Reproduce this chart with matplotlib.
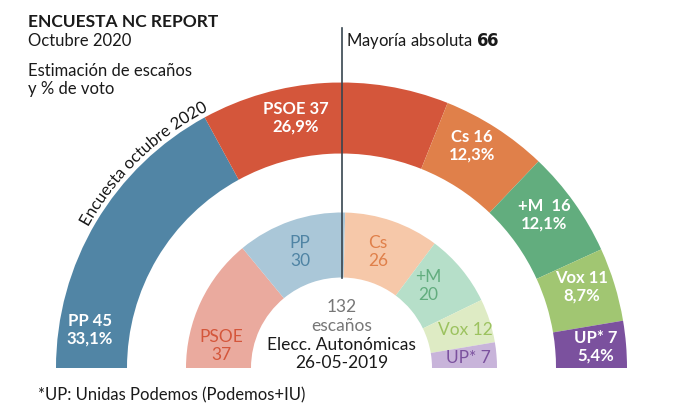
import numpy as np
import matplotlib
matplotlib.use("Agg")
from matplotlib import pyplot as plt
from matplotlib import patheffects as pe
from matplotlib.patches import Wedge
from matplotlib.font_manager import FontProperties, findfont, get_font
from matplotlib.ft2font import Kerning

# ==================================================
#   DATA

total_seats = 132
majority = 66

# outer ring: encuesta octubre 2020 (left to right)
survey_parties = ["PP", "PSOE", "Cs", "+M ", "Vox", "UP*"]
survey_seats = [45, 37, 16, 16, 11, 7]
survey_votes = ["33,1%", "26,9%", "12,3%", "12,1%", "8,7%", "5,4%"]

# inner ring: elecciones autonomicas 26-05-2019 (left to right)
elec_parties = ["PSOE", "PP", "Cs", "+M", "Vox", "UP*"]
elec_seats = [37, 30, 26, 20, 12, 7]

# ==================================================
#   STYLE / LAYOUT

FONT = "Lato"
plt.rcParams["font.family"] = [FONT, "DejaVu Sans"]

strong = {"PP": "#5185a5", "PSOE": "#d4563b", "Cs": "#e0804a",
          "+M": "#62ad7e", "Vox": "#a1c672", "UP*": "#7b519e"}
light = {"PP": "#aac7d8", "PSOE": "#eaaa9e", "Cs": "#f6c8a9",
         "+M": "#b6dfc9", "Vox": "#deebc4", "UP*": "#c8b4da"}
light_txt = {"PP": "#4f84a4", "PSOE": "#d4563b", "Cs": "#e0804a",
             "+M": "#62ad7e", "Vox": "#9cc25f", "UP*": "#7b519e"}

cx, cy = 341.5, 368.0
r_out, w_out = 285.5, 71.0
r_in, w_in = 155.5, 65.0

# label anchor points (pixels, image coords)
survey_lbl_xy = [(90, 330), (296, 118), (472, 146), (544, 215), (582, 287), (596, 347)]
elec_lbl_xy = [(221, 346), (300, 252), (378, 252), (428, 286), (465, 330), (468, 358)]


def ring(ax, seats, names, colors, r, w):
    # draw a half ring from left (180 deg) to right (0 deg); y axis is inverted
    start = 180.0
    for n, s in zip(names, seats):
        span = 180.0 * s / total_seats
        end = start - span
        ax.add_patch(Wedge((cx, cy), r, -start, -end, width=w,
                           facecolor=colors[n.strip()], edgecolor="none"))
        start = end


def advances(s, size_pt, dpi=100):
    # glyph advance widths (pixels) incl. kerning, from the font file
    font = get_font(findfont(FontProperties(family=FONT)))
    font.set_size(size_pt, dpi)
    out = []
    prev = None
    for c in s:
        gi = font.get_char_index(ord(c))
        kern = font.get_kerning(prev, gi, Kerning.DEFAULT) / 64.0 if prev is not None else 0.0
        glyph = font.load_char(ord(c))
        out.append((kern, glyph.linearHoriAdvance / 65536.0))
        prev = gi
    return out


def curved_text(ax, s, radius, ang_start, size, **kw):
    # put each character along an arc, going clockwise from ang_start
    # (path effect -> drawn as outline, so no pixel rounding per glyph)
    pos = 0.0
    for c, (kern, adv) in zip(s, advances(s, size)):
        pos += kern
        mid = pos + adv / 2
        pos += adv
        ang = ang_start - np.degrees(mid / radius)
        a = np.radians(ang)
        x = cx + radius * np.cos(a)
        y = cy - radius * np.sin(a)
        ax.text(x, y, c, rotation=ang - 90, rotation_mode="anchor",
                ha="center", va="baseline", fontsize=size,
                path_effects=[pe.Normal()], **kw)


fig = plt.figure(figsize=(6.8, 4.18), dpi=100)
ax = fig.add_axes([0, 0, 1, 1])
ax.set_xlim(0, 680)
ax.set_ylim(418, 0)
ax.axis("off")

ring(ax, survey_seats, survey_parties, strong, r_out, w_out)
ring(ax, elec_seats, elec_parties, light, r_in, w_in)

# majority line
ax.plot([cx, cx], [28, cy - (r_in - w_in)], color="#37454f", lw=1.2, zorder=3)
ax.text(cx + 4, 46, "Mayoría absoluta $\\mathbf{%d}$" % majority, fontsize=12,
        color="#1a1a1a", va="baseline")

# segment labels
for n, s, v, (x, y) in zip(survey_parties, survey_seats, survey_votes, survey_lbl_xy):
    ax.text(x, y, f"{n} {s}\n{v}", color="white", fontsize=12, fontweight="bold",
            ha="center", va="center", linespacing=1.1)

for n, s, (x, y) in zip(elec_parties, elec_seats, elec_lbl_xy):
    sep = " " if n in ("Vox", "UP*") else "\n"
    ax.text(x, y, f"{n}{sep}{s}", color=light_txt[n], fontsize=12.5,
            ha="center", va="center", linespacing=1.1)

# centre text
ax.text(cx, 307, str(total_seats), color="#777777", fontsize=12.5, ha="center", va="center")
ax.text(cx, 326, "escaños", color="#777777", fontsize=12.5, ha="center", va="center")
ax.text(cx, 345, "Elecc. Autonómicas", color="#1a1a1a", fontsize=12.5, ha="center", va="center")
ax.text(cx, 363, "26-05-2019", color="#1a1a1a", fontsize=12.5, ha="center", va="center")

# curved ring title
curved_text(ax, "Encuesta octubre 2020", 290, 151, 12, color="#1a1a1a")

# titles
ax.text(28, 27, "ENCUESTA NC REPORT", fontsize=12.5, fontweight="bold", color="#1a1a1a", va="baseline")
ax.text(28, 46, "Octubre 2020", fontsize=12, color="#1a1a1a", va="baseline")
ax.text(28, 76, "Estimación de escaños", fontsize=12, color="#1a1a1a", va="baseline")
ax.text(28, 94, "y % de voto", fontsize=12, color="#1a1a1a", va="baseline")
ax.text(38, 400, "*UP: Unidas Podemos (Podemos+IU)", fontsize=12, color="#1a1a1a", va="baseline")

plt.savefig("out.png", dpi=100)
